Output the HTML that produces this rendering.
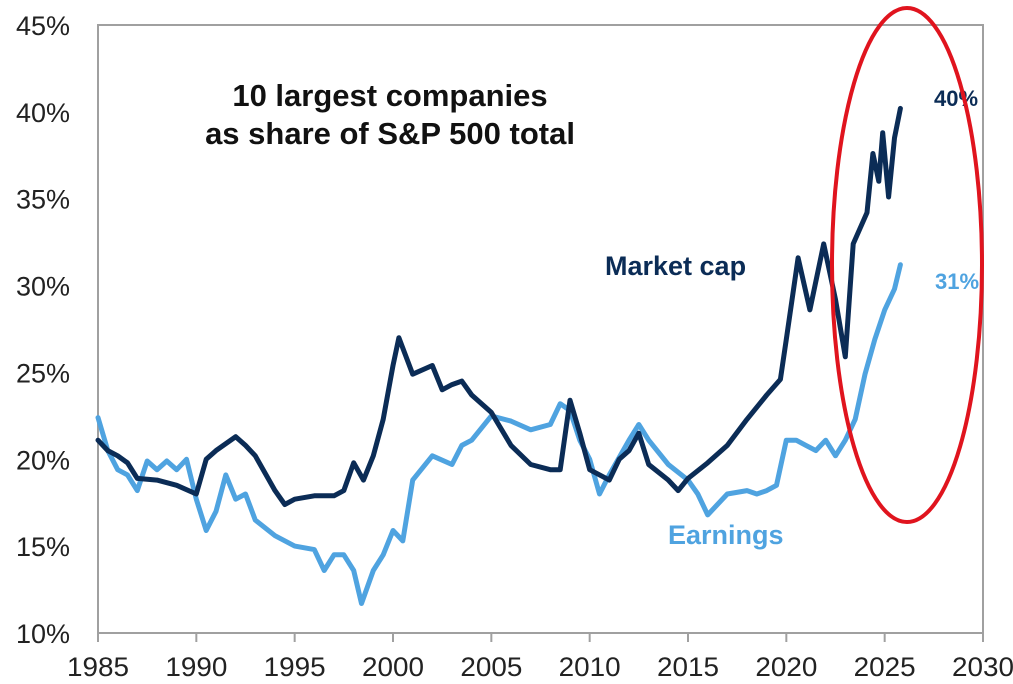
<!DOCTYPE html>
<html><head><meta charset="utf-8"><style>
body{margin:0;background:#fff;width:1013px;height:684px;overflow:hidden}
svg{display:block;font-family:"Liberation Sans",Arial,sans-serif}
</style></head><body>
<svg id="chart" width="1013" height="684">
<g id="axes"></g><g id="series"></g>
<text x="390" y="106" text-anchor="middle" font-size="31" font-weight="bold" fill="#111">10 largest companies</text>
<text x="390" y="144" text-anchor="middle" font-size="31" font-weight="bold" fill="#111">as share of S&amp;P 500 total</text>
<text x="605" y="275" font-size="27" font-weight="bold" fill="#0b2c56">Market cap</text>
<text x="668" y="544" font-size="27" font-weight="bold" fill="#4fa3e0">Earnings</text>
<text x="934" y="106" font-size="22" font-weight="bold" fill="#0b2c56">40%</text>
<text x="935" y="289" font-size="22" font-weight="bold" fill="#4fa3e0">31%</text>
<ellipse cx="907" cy="265" rx="75" ry="257" fill="none" stroke="#e0141e" stroke-width="4"/>
</svg>
<script>
const yTicks=[10,15,20,25,30,35,40,45];
const xTicks=[1985,1990,1995,2000,2005,2010,2015,2020,2025,2030];
const mcYears=[1985,1985.5,1986,1986.5,1987,1988,1989,1990,1990.5,1991,1992,1992.5,1993,1994,1994.5,1995,1996,1997,1997.5,1998,1998.5,1999,1999.5,2000,2000.3,2001,2002,2002.5,2003,2003.5,2004,2005,2006,2007,2008,2008.5,2009,2009.5,2010,2011,2011.5,2012,2012.5,2013,2014,2014.5,2015,2016,2017,2018,2019,2019.7,2020,2020.6,2021.2,2021.9,2022.5,2023,2023.4,2024.1,2024.4,2024.7,2024.9,2025.2,2025.5,2025.8];
const mcValues=[21.1,20.5,20.2,19.8,18.9,18.8,18.5,18.0,20.0,20.5,21.3,20.8,20.2,18.2,17.4,17.7,17.9,17.9,18.2,19.8,18.8,20.2,22.3,25.4,27.0,24.9,25.4,24.0,24.3,24.5,23.7,22.7,20.8,19.7,19.4,19.4,23.4,21.5,19.4,18.8,20.0,20.5,21.5,19.7,18.8,18.2,18.9,19.8,20.8,22.3,23.7,24.6,26.9,31.6,28.6,32.4,29.2,25.9,32.4,34.2,37.6,36.0,38.8,35.1,38.5,40.2];
const erYears=[1985,1985.5,1986,1986.5,1987,1987.5,1988,1988.5,1989,1989.5,1990,1990.5,1991,1991.5,1992,1992.5,1993,1994,1995,1996,1996.5,1997,1997.5,1998,1998.4,1999,1999.5,2000,2000.5,2001,2002,2003,2003.5,2004,2005,2006,2007,2008,2008.5,2009,2009.5,2010,2010.5,2011,2012,2012.5,2013,2014,2015,2015.5,2016,2017,2018,2018.5,2019,2019.5,2020,2020.5,2021,2021.5,2022,2022.5,2023,2023.5,2024,2024.5,2025,2025.5,2025.8];
const erValues=[22.4,20.5,19.4,19.1,18.2,19.9,19.4,19.9,19.4,20.0,17.7,15.9,17.0,19.1,17.7,18.0,16.5,15.6,15.0,14.8,13.6,14.5,14.5,13.6,11.7,13.6,14.5,15.9,15.3,18.8,20.2,19.7,20.8,21.1,22.5,22.2,21.7,22.0,23.2,22.8,21.1,20.0,18.0,19.1,21.1,22.0,21.1,19.7,18.8,18.0,16.8,18.0,18.2,18.0,18.2,18.5,21.1,21.1,20.8,20.5,21.1,20.2,21.1,22.3,24.9,26.9,28.6,29.8,31.2];
const X0=98,X1=983,Y0=633,Y1=25;
const xs=v=>X0+(v-1985)/(2030-1985)*(X1-X0);
const ys=v=>Y0-(v-10)/(45-10)*(Y0-Y1);
const NS='http://www.w3.org/2000/svg';
const axes=document.getElementById('axes'),series=document.getElementById('series');
function mk(tag,attrs,parent){const e=document.createElementNS(NS,tag);for(const k in attrs)e.setAttribute(k,attrs[k]);parent.appendChild(e);return e;}
const frame=mk('rect',{x:X0,y:Y1,width:X1-X0,height:Y0-Y1,fill:'none',stroke:'#a0a0a0','stroke-width':2},axes);


yTicks.forEach(t=>{const tx=mk('text',{x:70,y:ys(t)+10,'text-anchor':'end','font-size':27,fill:'#222'},axes);tx.textContent=t+'%';

});
xTicks.forEach(t=>{const l=mk('line',{x1:xs(t),x2:xs(t),y1:Y0,y2:Y0+9,stroke:'#a0a0a0','stroke-width':2},axes);


const tx=mk('text',{x:xs(t),y:676,'text-anchor':'middle','font-size':27,fill:'#222',textLength:62,lengthAdjust:'spacingAndGlyphs'},axes);tx.textContent=t;

});
function line(yrs,vals,color,name){const d=yrs.map((y,i)=>(i?'L':'M')+xs(y).toFixed(1)+','+ys(vals[i]).toFixed(1)).join('');
const p=mk('path',{d:d,fill:'none',stroke:color,'stroke-width':5,'stroke-linejoin':'round','stroke-linecap':'round'},series);

}
line(erYears,erValues,'#4fa3e0','earnings-line');
line(mcYears,mcValues,'#0b2c56','market-cap-line');
</script>
</body></html>
